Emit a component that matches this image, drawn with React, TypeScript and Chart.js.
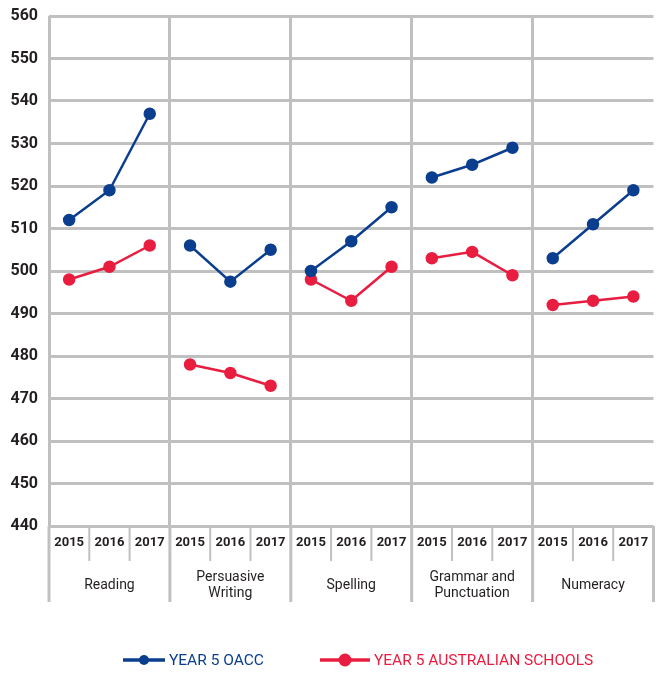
import React, { useEffect, useRef } from 'react';
import { Chart, registerables } from 'chart.js';

Chart.register(...registerables);

const subjects: string[][] = [
  ['Reading'],
  ['Persuasive', 'Writing'],
  ['Spelling'],
  ['Grammar and', 'Punctuation'],
  ['Numeracy'],
];
const years = ['2015', '2016', '2017'];
const oaccScores = [512, 519, 537, 506, 497.5, 505, 500, 507, 515, 522, 525, 529, 503, 511, 519];
const australianScores = [498, 501, 506, 478, 476, 473, 498, 493, 501, 503, 504.5, 499, 492, 493, 494];
const yMin = 440;
const yMax = 560;
const yStep = 10;
const seriesNames = ['YEAR 5 OACC', 'YEAR 5 AUSTRALIAN SCHOOLS'];

const BLUE = '#0b3e8e';
const RED = '#e91d3f';
const GRID = '#c0c0c0';
const TEXT = '#231f20';
const FONT = "Roboto, 'DejaVu Sans', sans-serif";

const labels = subjects.flatMap(() => years);

const groupPlugin = {
  id: 'groupLabels',
  afterDraw(chart: any) {
    const { ctx, chartArea, scales } = chart;
    const x = scales.x;
    const n = labels.length;
    const b = chartArea.bottom;
    ctx.save();
    ctx.strokeStyle = GRID;
    for (let i = 0; i <= n; i++) {
      const px = x.getPixelForValue(i - 0.5);
      const group = i % years.length === 0;
      ctx.lineWidth = group ? 3 : 2;
      ctx.beginPath();
      ctx.moveTo(px, b);
      ctx.lineTo(px, group ? b + 76 : b + 35);
      ctx.stroke();
    }
    ctx.fillStyle = TEXT;
    ctx.font = `14px ${FONT}`;
    ctx.textAlign = 'center';
    ctx.textBaseline = 'middle';
    subjects.forEach((lines, g) => {
      const cx = (x.getPixelForValue(g * 3) + x.getPixelForValue(g * 3 + 2)) / 2;
      const lh = 16;
      const y0 = b + 59 - ((lines.length - 1) * lh) / 2;
      lines.forEach((t, k) => ctx.fillText(t, cx, y0 + k * lh));
    });

    // legend
    const ly = 660;
    ctx.font = `15.5px ${FONT}`;
    ctx.textAlign = 'left';
    const items = [
      { name: seriesNames[0], color: BLUE, x0: 123, len: 42, r: 5 },
      { name: seriesNames[1], color: RED, x0: 320, len: 50, r: 6.5 },
    ];
    items.forEach((it) => {
      ctx.strokeStyle = it.color;
      ctx.lineWidth = 3.5;
      ctx.beginPath();
      ctx.moveTo(it.x0, ly);
      ctx.lineTo(it.x0 + it.len, ly);
      ctx.stroke();
      ctx.fillStyle = it.color;
      ctx.beginPath();
      ctx.arc(it.x0 + it.len / 2, ly, it.r, 0, Math.PI * 2);
      ctx.fill();
      ctx.fillText(it.name, it.x0 + it.len + 4, ly + 1);
    });
    ctx.restore();
  },
};

export default function App() {
  const ref = useRef<HTMLCanvasElement>(null);
  useEffect(() => {
    if (!ref.current) return;
    const seg = (color: string) => ({
      borderColor: (c: any) => (c.p0DataIndex % years.length === years.length - 1 ? 'rgba(0,0,0,0)' : color),
    });
    const chart = new Chart(ref.current, {
      type: 'line',
      data: {
        labels,
        datasets: [
          {
            label: seriesNames[0],
            data: oaccScores,
            borderColor: BLUE,
            backgroundColor: BLUE,
            pointBackgroundColor: BLUE,
            pointBorderColor: BLUE,
            pointRadius: 5,
            borderWidth: 2.5,
            segment: seg(BLUE),
          },
          {
            label: seriesNames[1],
            data: australianScores,
            borderColor: RED,
            backgroundColor: RED,
            pointBackgroundColor: RED,
            pointBorderColor: RED,
            pointRadius: 5,
            borderWidth: 2.5,
            segment: seg(RED),
          },
        ],
      },
      options: {
        animation: false,
        responsive: true,
        maintainAspectRatio: false,
        layout: { padding: { left: 0, right: 4, top: 16, bottom: 0 } },
        plugins: { legend: { display: false }, tooltip: { enabled: false } },
        scales: {
          x: {
            type: 'category',
            offset: true,
            border: { display: false },
            grid: {
              offset: true,
              drawTicks: false,
              lineWidth: 3,
              color: (c: any) => (c.index % years.length === 0 ? GRID : 'rgba(0,0,0,0)'),
            },
            ticks: {
              color: TEXT,
              font: { family: FONT, size: 13, weight: 'bold' },
              padding: 9,
              maxRotation: 0,
              autoSkip: false,
            },
            afterFit: (s: any) => {
              s.height = 147;
              s.paddingLeft = 0;
              s.paddingRight = 0;
            },
          },
          y: {
            min: yMin,
            max: yMax,
            border: { display: false },
            grid: { color: GRID, lineWidth: 3, drawTicks: false },
            ticks: {
              stepSize: yStep,
              color: TEXT,
              font: { family: FONT, size: 16, weight: 'bold' },
              padding: 11,
            },
            afterFit: (s: any) => {
              s.width = 49;
              s.paddingTop = 0;
              s.paddingBottom = 0;
            },
          },
        },
      },
      plugins: [groupPlugin],
    });
    return () => chart.destroy();
  }, []);
  return (
    <div style={{ position: 'fixed', left: 0, top: 0, width: 661, height: 673, background: '#fff' }}>
      <canvas ref={ref} />
    </div>
  );
}
